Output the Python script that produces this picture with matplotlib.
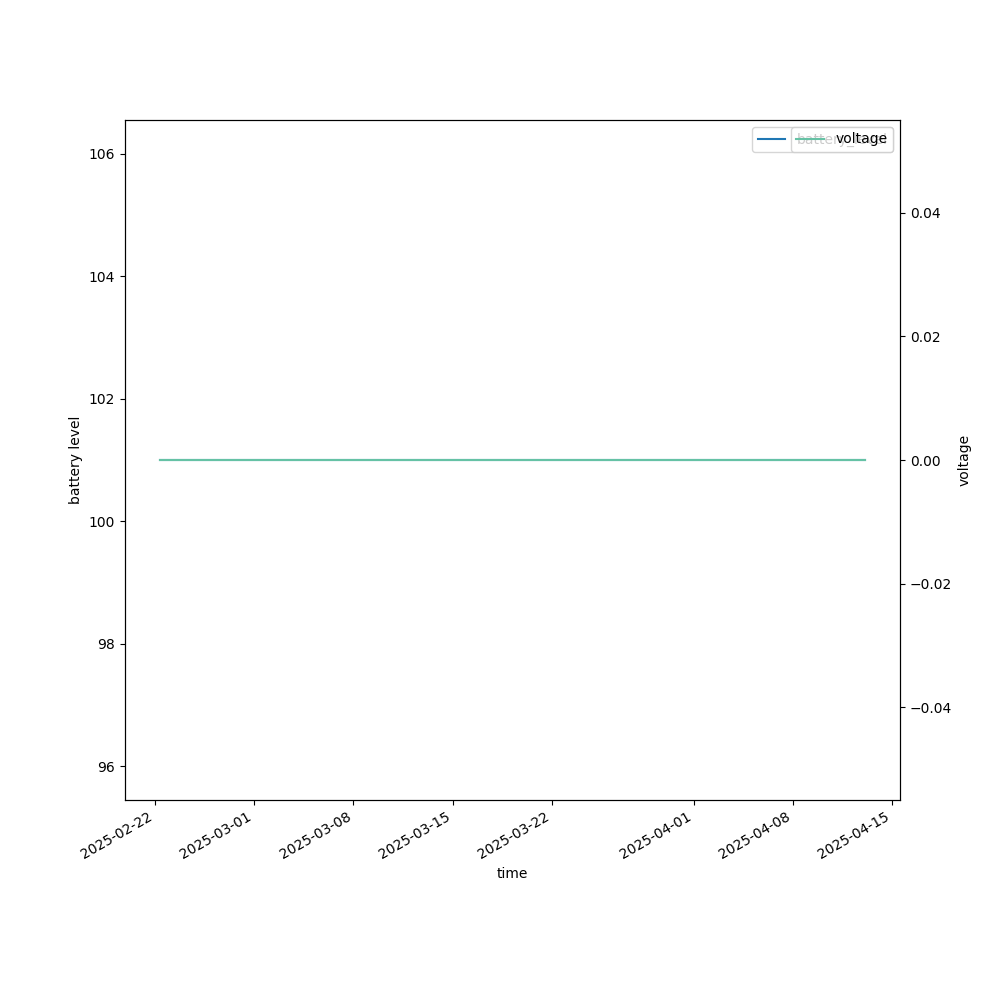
import matplotlib
matplotlib.use("Agg")
import matplotlib.pyplot as plt
import pandas as pd

# readings (constant over the whole period)
times = pd.to_datetime(["2025-02-22 09:00", "2025-03-15 00:00", "2025-04-13 02:00"])
battery_level = [101, 101, 101]
voltage = [0, 0, 0]

fig, ax1 = plt.subplots(figsize=(10, 10), dpi=100)

ax1.plot(times, battery_level, color="#1f77b4", label="battery_level")
ax1.set_xlabel("time")
ax1.set_ylabel("battery level")
ax1.legend(loc="upper right")

ax2 = ax1.twinx()
ax2.plot(times, voltage, color="#66c2a5", label="voltage")
ax2.set_ylabel("voltage")
ax2.legend(loc="upper right")

fig.autofmt_xdate()
fig.savefig("out.png")
